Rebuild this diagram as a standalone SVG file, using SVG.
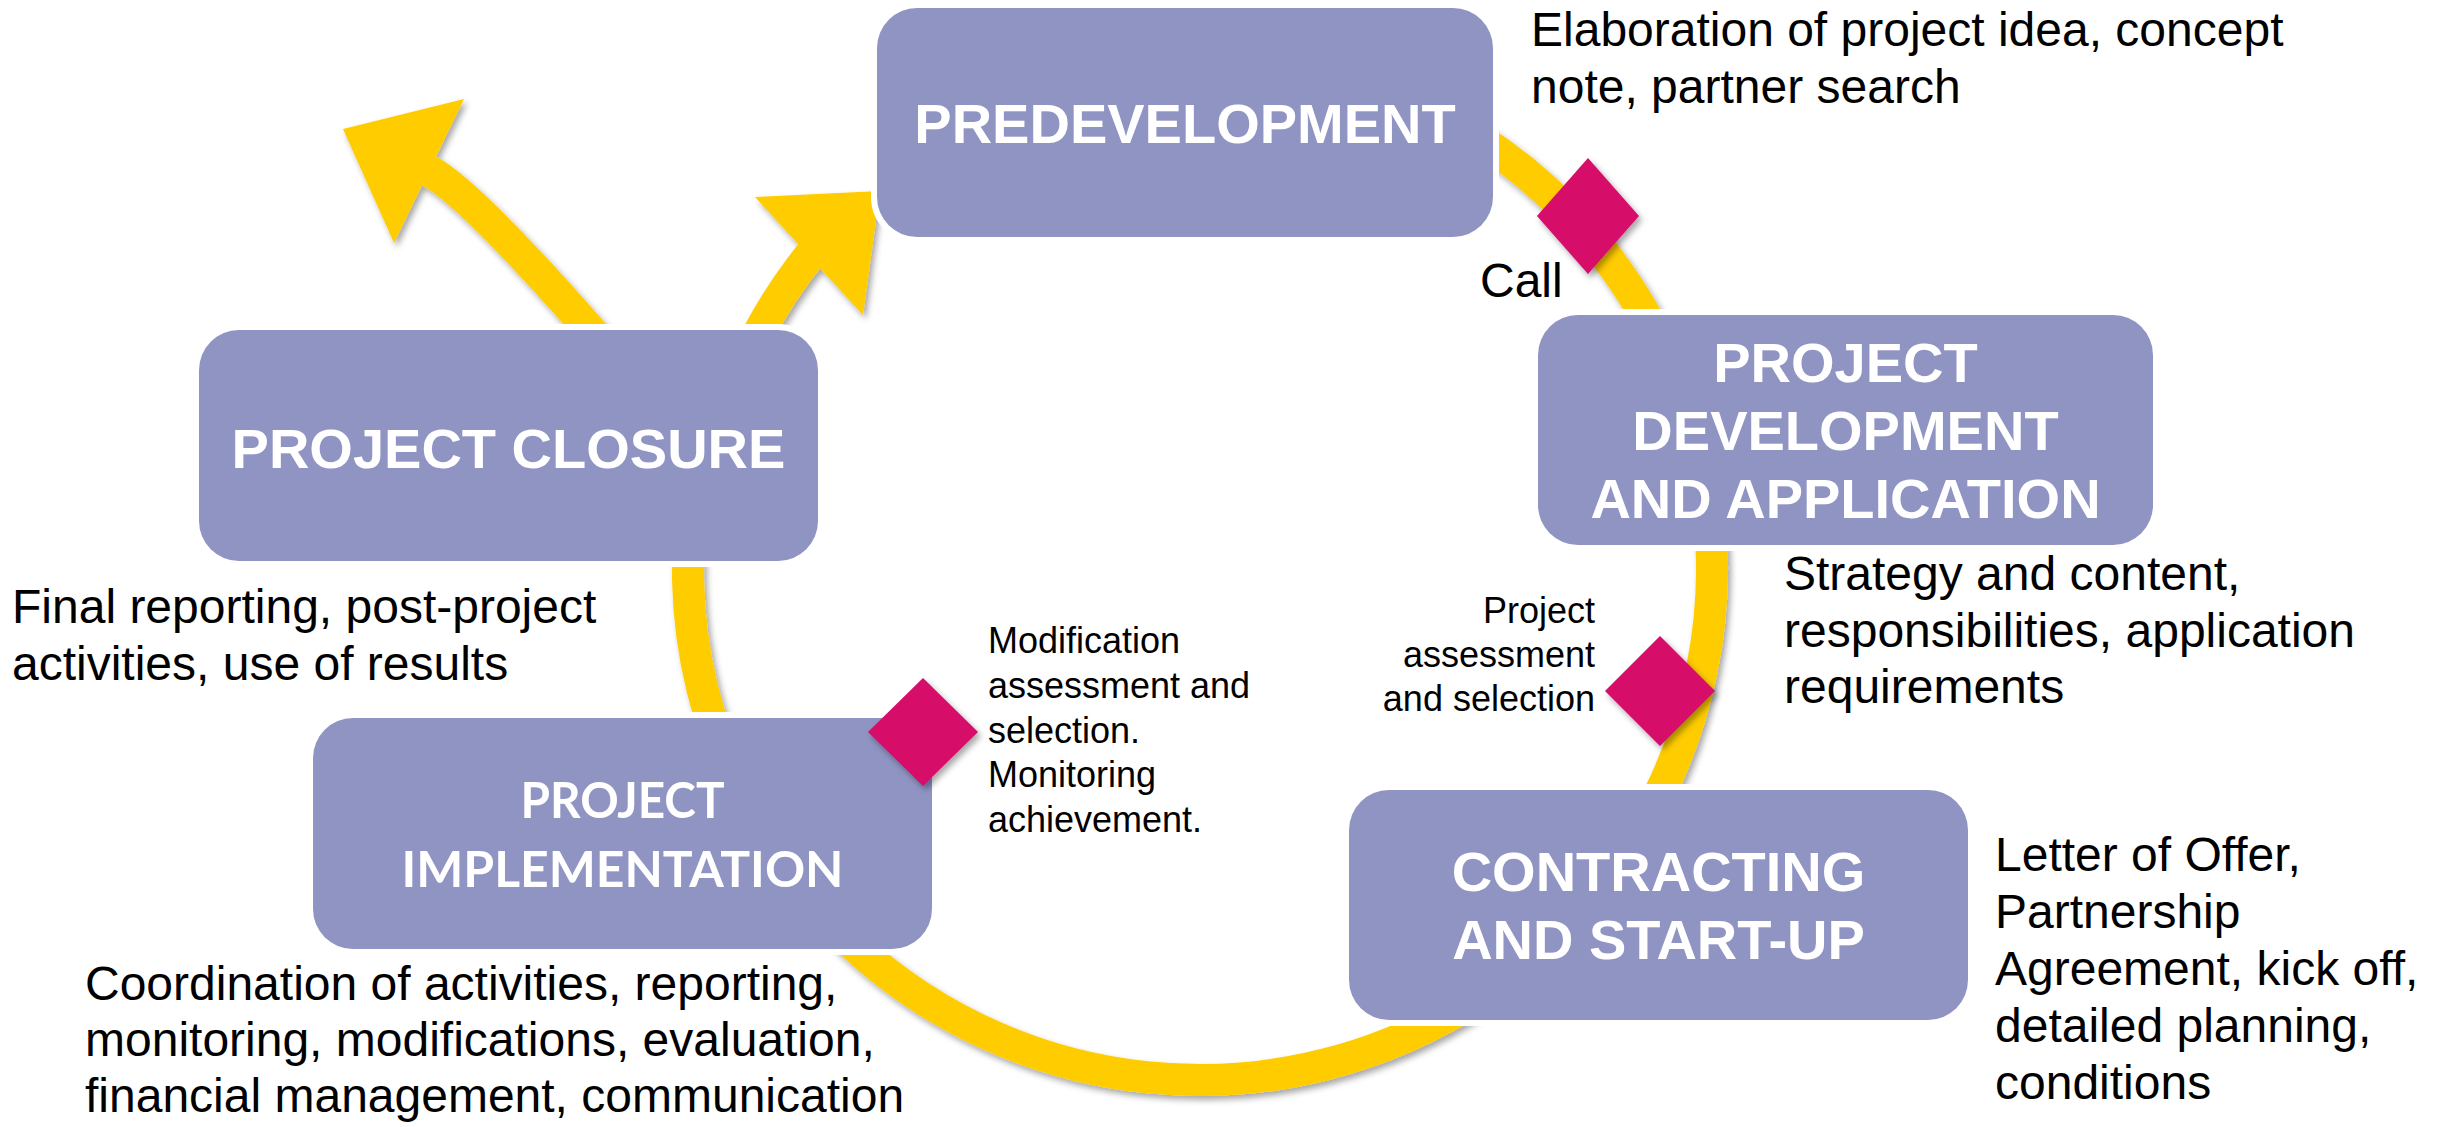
<svg xmlns="http://www.w3.org/2000/svg" width="2443" height="1127" viewBox="0 0 2443 1127">
<defs>
<filter id="sh" filterUnits="userSpaceOnUse" x="0" y="0" width="2443" height="1127">
<feDropShadow dx="3" dy="4" stdDeviation="3" flood-color="#000" flood-opacity="0.35"/>
</filter>
</defs>
<style>
.ring{fill:none;stroke:#FFCC00;stroke-width:32}
.head{fill:#FFCC00}
.box{fill:#8F94C3;stroke:#fff;stroke-width:12;paint-order:stroke}
.lbl{font-family:"Liberation Sans",Arial,sans-serif;font-weight:bold;font-size:56px;fill:#fff;text-anchor:middle}
.lbl2{font-family:Lato,"Liberation Sans",sans-serif;font-weight:bold;font-size:50px;fill:#fff;text-anchor:middle}
.desc{font-family:"Liberation Sans",Arial,sans-serif;font-size:48px;fill:#000}
.note{font-family:"Liberation Sans",Arial,sans-serif;font-size:36px;fill:#000}
.dia{fill:#D70B6B}
</style>
<rect width="2443" height="1127" fill="#fff"/>
<g id="connectors" filter="url(#sh)">
<path class="ring" d="M1478.8,138.6 A512,512 0 0 1 1656.2,335.6"/>
<path class="ring" d="M1710.1,523.4 A512,512 0 0 1 1652.1,808.4"/>
<path class="ring" d="M1478.8,997.4 A512,512 0 0 1 837.9,930"/>
<path class="ring" d="M718.9,743.1 A512,512 0 0 1 689.9,523.4"/>
<path class="ring" d="M752.5,345 A500,500 0 0 1 817,246.6"/>
<polygon class="head" points="755,197 880,191 863,315"/>
<path class="ring" d="M606,350 L591,331 Q468,191 429,171 L420,167"/>
<polygon class="head" points="343,129 464,99 394,243"/>
</g>
<g id="predevelopment">
<rect class="box" x="877" y="8" width="616" height="229" rx="40"/>
<text class="lbl" x="1185" y="143">PREDEVELOPMENT</text>
</g>
<g id="development">
<rect class="box" x="1538" y="315" width="615" height="230" rx="40"/>
<text class="lbl" x="1845.5" y="382">PROJECT</text>
<text class="lbl" x="1845.5" y="450">DEVELOPMENT</text>
<text class="lbl" x="1845.5" y="518">AND APPLICATION</text>
</g>
<g id="contracting">
<rect class="box" x="1349" y="790" width="619" height="230" rx="40"/>
<text class="lbl" x="1658.5" y="891">CONTRACTING</text>
<text class="lbl" x="1658.5" y="959">AND START-UP</text>
</g>
<g id="implementation">
<rect class="box" x="313" y="718" width="619" height="231" rx="40"/>
<text class="lbl2" x="622.5" y="818" textLength="204" lengthAdjust="spacingAndGlyphs">PROJECT</text>
<text class="lbl2" x="622.5" y="887" textLength="442" lengthAdjust="spacingAndGlyphs">IMPLEMENTATION</text>
</g>
<g id="closure">
<rect class="box" x="199" y="330" width="619" height="231" rx="40"/>
<text class="lbl" x="508.5" y="468">PROJECT CLOSURE</text>
</g>
<g id="gates" filter="url(#sh)">
<polygon class="dia" points="1588,158 1639,216 1588,274 1537,216"/>
<polygon class="dia" points="1660,636 1715,691 1660,746 1605,691"/>
<polygon class="dia" points="923,678 978,732 923,786 868,732"/>
</g>
<g id="texts">
<text class="desc" x="1531" y="46">Elaboration of project idea, concept</text>
<text class="desc" x="1531" y="103">note, partner search</text>
<text class="desc" x="1480" y="297">Call</text>
<text class="desc" x="1784" y="590">Strategy and content,</text>
<text class="desc" x="1784" y="646.5">responsibilities, application</text>
<text class="desc" x="1784" y="703">requirements</text>
<text class="note" x="1595" y="623" text-anchor="end">Project</text>
<text class="note" x="1595" y="667" text-anchor="end">assessment</text>
<text class="note" x="1595" y="711" text-anchor="end">and selection</text>
<text class="desc" x="1995" y="871">Letter of Offer,</text>
<text class="desc" x="1995" y="928">Partnership</text>
<text class="desc" x="1995" y="985">Agreement, kick off,</text>
<text class="desc" x="1995" y="1042">detailed planning,</text>
<text class="desc" x="1995" y="1099">conditions</text>
<text class="note" x="988" y="653">Modification</text>
<text class="note" x="988" y="698">assessment and</text>
<text class="note" x="988" y="742.5">selection.</text>
<text class="note" x="988" y="787">Monitoring</text>
<text class="note" x="988" y="832">achievement.</text>
<text class="desc" x="12" y="623">Final reporting, post-project</text>
<text class="desc" x="12" y="680">activities, use of results</text>
<text class="desc" x="85" y="1000">Coordination of activities, reporting,</text>
<text class="desc" x="85" y="1056">monitoring, modifications, evaluation,</text>
<text class="desc" x="85" y="1112">financial management, communication</text>
</g>
</svg>
